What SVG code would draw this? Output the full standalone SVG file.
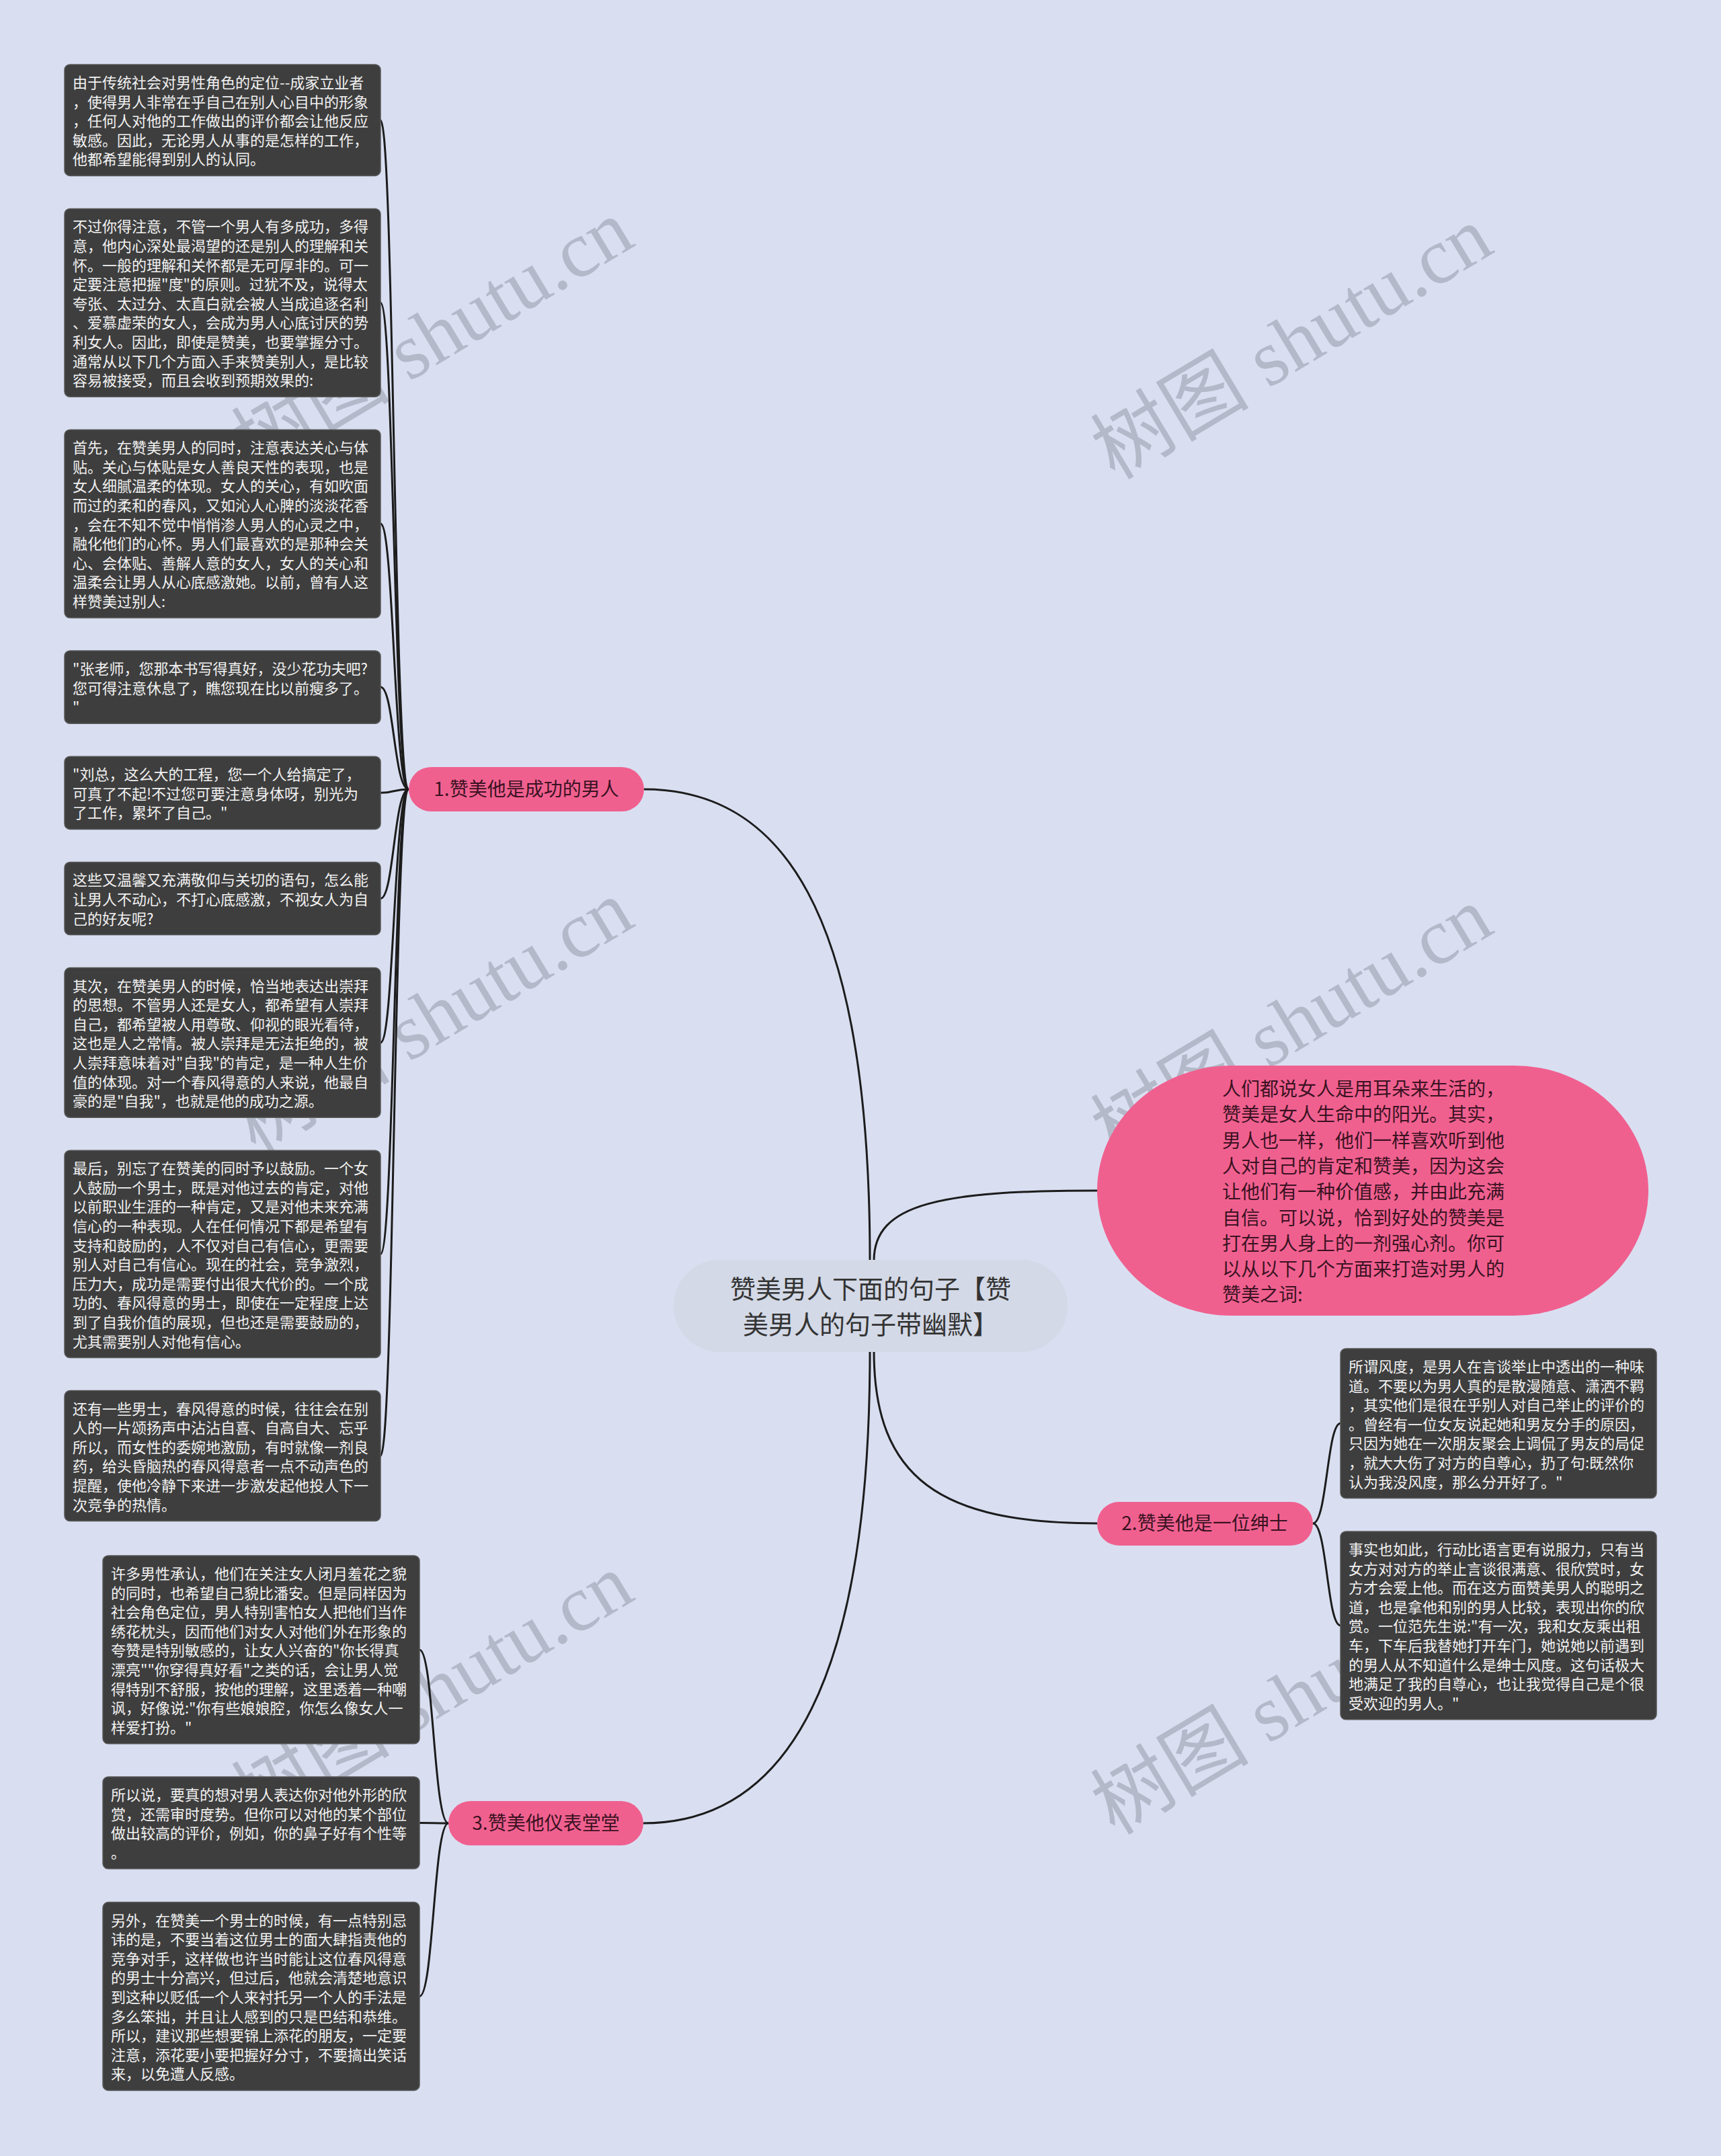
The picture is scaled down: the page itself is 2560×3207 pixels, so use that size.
<svg xmlns="http://www.w3.org/2000/svg" width="2560" height="3207" viewBox="0 0 2560 3207">
<style>
.bg{fill:#d9dff1}
.box{fill:#3e3e3e;stroke:#585858;stroke-width:1.5}
.bt{font-family:"Noto Sans CJK SC","Noto Sans",sans-serif;font-size:22px;fill:#f2f2f2}
.pink{fill:#f0608f}
.pt{font-family:"Noto Sans CJK SC","Noto Sans",sans-serif;font-size:28px;fill:#3a1222}
.ct{font-family:"Noto Sans CJK SC","Noto Sans",sans-serif;font-size:38px;fill:#333333}
.ln{fill:none;stroke:#1c1c1c;stroke-width:3}
.wm{font-family:"Liberation Serif","Noto Sans CJK SC",serif;font-size:118px;fill:#aab0bf;opacity:0.8}
</style>
<rect class="bg" x="0" y="0" width="2560" height="3207"/>

<g id="watermarks">
<text class="wm" x="644" y="540" text-anchor="middle" transform="rotate(-31 644 501)">树图 shutu.cn</text>
<text class="wm" x="1922" y="550" text-anchor="middle" transform="rotate(-31 1922 511)">树图 shutu.cn</text>
<text class="wm" x="644" y="1552" text-anchor="middle" transform="rotate(-31 644 1513)">树图 shutu.cn</text>
<text class="wm" x="1922" y="1562" text-anchor="middle" transform="rotate(-31 1922 1523)">树图 shutu.cn</text>
<text class="wm" x="644" y="2554" text-anchor="middle" transform="rotate(-31 644 2515)">树图 shutu.cn</text>
<text class="wm" x="1922" y="2566" text-anchor="middle" transform="rotate(-31 1922 2527)">树图 shutu.cn</text>
</g>

<g id="connectors">
<path class="ln" d="M958,1174 C1160,1174 1294,1350 1294,1875"/>
<path class="ln" d="M1294,2010 C1294,2520 1160,2712 957,2712"/>
<path class="ln" d="M1300,1875 C1300,1790 1400,1771 1632,1771"/>
<path class="ln" d="M1300,2010 C1300,2200 1400,2266 1632,2266"/>
<path class="ln" d="M608,1174 C586,1174 586,178.7 566,178.7"/>
<path class="ln" d="M608,1174 C586,1174 586,450.3 566,450.3"/>
<path class="ln" d="M608,1174 C586,1174 586,779.1 566,779.1"/>
<path class="ln" d="M608,1174 C586,1174 586,1022.1 566,1022.1"/>
<path class="ln" d="M608,1174 C586,1174 586,1179.3 566,1179.3"/>
<path class="ln" d="M608,1174 C586,1174 586,1336.5 566,1336.5"/>
<path class="ln" d="M608,1174 C586,1174 586,1550.9 566,1550.9"/>
<path class="ln" d="M608,1174 C586,1174 586,1865.4 566,1865.4"/>
<path class="ln" d="M608,1174 C586,1174 586,2165.6 566,2165.6"/>
<path class="ln" d="M667,2712 C645,2712 645,2454 624,2454"/>
<path class="ln" d="M667,2712 C645,2712 645,2711.4 624,2711.4"/>
<path class="ln" d="M667,2712 C645,2712 645,2969.5 624,2969.5"/>
<path class="ln" d="M1953,2266 C1974,2266 1974,2117.3 1994,2117.3"/>
<path class="ln" d="M1953,2266 C1974,2266 1974,2417.9 1994,2417.9"/>
</g>

<g id="center">
<rect x="1002" y="1874" width="586" height="137" rx="68" fill="#d3d9e6"/>
<text class="ct" text-anchor="middle"><tspan x="1295" y="1931">赞美男人下面的句子【赞</tspan><tspan x="1295" y="1984">美男人的句子带幽默】</tspan></text>
</g>

<g id="topic1">
<rect class="pink" x="608" y="1141" width="350" height="66" rx="33"/>
<text class="pt" x="783" y="1184" text-anchor="middle">1.赞美他是成功的男人</text>
</g>
<g id="topic2">
<rect class="pink" x="1632" y="2234" width="321" height="65" rx="32.5"/>
<text class="pt" x="1792" y="2276" text-anchor="middle">2.赞美他是一位绅士</text>
</g>
<g id="topic3">
<rect class="pink" x="667" y="2679" width="290" height="66" rx="33"/>
<text class="pt" x="812" y="2722" text-anchor="middle">3.赞美他仪表堂堂</text>
</g>

<g id="intro">
<rect class="pink" x="1632" y="1585" width="820" height="372" rx="200" ry="186"/>
<text class="pt"><tspan x="1818" y="1630">人们都说女人是用耳朵来生活的，</tspan><tspan x="1818" dy="38.3">赞美是女人生命中的阳光。其实，</tspan><tspan x="1818" dy="38.3">男人也一样，他们一样喜欢听到他</tspan><tspan x="1818" dy="38.3">人对自己的肯定和赞美，因为这会</tspan><tspan x="1818" dy="38.3">让他们有一种价值感，并由此充满</tspan><tspan x="1818" dy="38.3">自信。可以说，恰到好处的赞美是</tspan><tspan x="1818" dy="38.3">打在男人身上的一剂强心剂。你可</tspan><tspan x="1818" dy="38.3">以从以下几个方面来打造对男人的</tspan><tspan x="1818" dy="38.3">赞美之词:</tspan></text>
</g>

<g id="b1">
<rect class="box" x="96" y="96" width="470" height="165.4" rx="8"/>
<text class="bt"><tspan x="108" y="131">由于传统社会对男性角色的定位--成家立业者</tspan><tspan x="108" dy="28.6">，使得男人非常在乎自己在别人心目中的形象</tspan><tspan x="108" dy="28.6">，任何人对他的工作做出的评价都会让他反应</tspan><tspan x="108" dy="28.6">敏感。因此，无论男人从事的是怎样的工作，</tspan><tspan x="108" dy="28.6">他都希望能得到别人的认同。</tspan></text>
</g>
<g id="b2">
<rect class="box" x="96" y="310.4" width="470" height="279.8" rx="8"/>
<text class="bt"><tspan x="108" y="345.4">不过你得注意，不管一个男人有多成功，多得</tspan><tspan x="108" dy="28.6">意，他内心深处最渴望的还是别人的理解和关</tspan><tspan x="108" dy="28.6">怀。一般的理解和关怀都是无可厚非的。可一</tspan><tspan x="108" dy="28.6">定要注意把握"度"的原则。过犹不及，说得太</tspan><tspan x="108" dy="28.6">夸张、太过分、太直白就会被人当成追逐名利</tspan><tspan x="108" dy="28.6">、爱慕虚荣的女人，会成为男人心底讨厌的势</tspan><tspan x="108" dy="28.6">利女人。因此，即使是赞美，也要掌握分寸。</tspan><tspan x="108" dy="28.6">通常从以下几个方面入手来赞美别人，是比较</tspan><tspan x="108" dy="28.6">容易被接受，而且会收到预期效果的:</tspan></text>
</g>
<g id="b3">
<rect class="box" x="96" y="639.2" width="470" height="279.8" rx="8"/>
<text class="bt"><tspan x="108" y="674.2">首先，在赞美男人的同时，注意表达关心与体</tspan><tspan x="108" dy="28.6">贴。关心与体贴是女人善良天性的表现，也是</tspan><tspan x="108" dy="28.6">女人细腻温柔的体现。女人的关心，有如吹面</tspan><tspan x="108" dy="28.6">而过的柔和的春风，又如沁人心脾的淡淡花香</tspan><tspan x="108" dy="28.6">，会在不知不觉中悄悄渗人男人的心灵之中，</tspan><tspan x="108" dy="28.6">融化他们的心怀。男人们最喜欢的是那种会关</tspan><tspan x="108" dy="28.6">心、会体贴、善解人意的女人，女人的关心和</tspan><tspan x="108" dy="28.6">温柔会让男人从心底感激她。以前，曾有人这</tspan><tspan x="108" dy="28.6">样赞美过别人:</tspan></text>
</g>
<g id="b4">
<rect class="box" x="96" y="968" width="470" height="108.2" rx="8"/>
<text class="bt"><tspan x="108" y="1003">"张老师，您那本书写得真好，没少花功夫吧?</tspan><tspan x="108" dy="28.6">您可得注意休息了，瞧您现在比以前瘦多了。</tspan><tspan x="108" dy="28.6">"</tspan></text>
</g>
<g id="b5">
<rect class="box" x="96" y="1125.2" width="470" height="108.2" rx="8"/>
<text class="bt"><tspan x="108" y="1160.2">"刘总，这么大的工程，您一个人给搞定了，</tspan><tspan x="108" dy="28.6">可真了不起!不过您可要注意身体呀，别光为</tspan><tspan x="108" dy="28.6">了工作，累坏了自己。"</tspan></text>
</g>
<g id="b6">
<rect class="box" x="96" y="1282.4" width="470" height="108.2" rx="8"/>
<text class="bt"><tspan x="108" y="1317.4">这些又温馨又充满敬仰与关切的语句，怎么能</tspan><tspan x="108" dy="28.6">让男人不动心，不打心底感激，不视女人为自</tspan><tspan x="108" dy="28.6">己的好友呢?</tspan></text>
</g>
<g id="b7">
<rect class="box" x="96" y="1439.6" width="470" height="222.6" rx="8"/>
<text class="bt"><tspan x="108" y="1474.6">其次，在赞美男人的时候，恰当地表达出崇拜</tspan><tspan x="108" dy="28.6">的思想。不管男人还是女人，都希望有人崇拜</tspan><tspan x="108" dy="28.6">自己，都希望被人用尊敬、仰视的眼光看待，</tspan><tspan x="108" dy="28.6">这也是人之常情。被人崇拜是无法拒绝的，被</tspan><tspan x="108" dy="28.6">人崇拜意味着对"自我"的肯定，是一种人生价</tspan><tspan x="108" dy="28.6">值的体现。对一个春风得意的人来说，他最自</tspan><tspan x="108" dy="28.6">豪的是"自我"，也就是他的成功之源。</tspan></text>
</g>
<g id="b8">
<rect class="box" x="96" y="1711.2" width="470" height="308.4" rx="8"/>
<text class="bt"><tspan x="108" y="1746.2">最后，别忘了在赞美的同时予以鼓励。一个女</tspan><tspan x="108" dy="28.6">人鼓励一个男士，既是对他过去的肯定，对他</tspan><tspan x="108" dy="28.6">以前职业生涯的一种肯定，又是对他未来充满</tspan><tspan x="108" dy="28.6">信心的一种表现。人在任何情况下都是希望有</tspan><tspan x="108" dy="28.6">支持和鼓励的，人不仅对自己有信心，更需要</tspan><tspan x="108" dy="28.6">别人对自己有信心。现在的社会，竞争激烈，</tspan><tspan x="108" dy="28.6">压力大，成功是需要付出很大代价的。一个成</tspan><tspan x="108" dy="28.6">功的、春风得意的男士，即使在一定程度上达</tspan><tspan x="108" dy="28.6">到了自我价值的展现，但也还是需要鼓励的，</tspan><tspan x="108" dy="28.6">尤其需要别人对他有信心。</tspan></text>
</g>
<g id="b9">
<rect class="box" x="96" y="2068.6" width="470" height="194" rx="8"/>
<text class="bt"><tspan x="108" y="2103.6">还有一些男士，春风得意的时候，往往会在别</tspan><tspan x="108" dy="28.6">人的一片颂扬声中沾沾自喜、自高自大、忘乎</tspan><tspan x="108" dy="28.6">所以，而女性的委婉地激励，有时就像一剂良</tspan><tspan x="108" dy="28.6">药，给头昏脑热的春风得意者一点不动声色的</tspan><tspan x="108" dy="28.6">提醒，使他冷静下来进一步激发起他投人下一</tspan><tspan x="108" dy="28.6">次竞争的热情。</tspan></text>
</g>

<g id="lb1">
<rect class="box" x="153" y="2314" width="471" height="279.8" rx="8"/>
<text class="bt"><tspan x="165" y="2349">许多男性承认，他们在关注女人闭月羞花之貌</tspan><tspan x="165" dy="28.6">的同时，也希望自己貌比潘安。但是同样因为</tspan><tspan x="165" dy="28.6">社会角色定位，男人特别害怕女人把他们当作</tspan><tspan x="165" dy="28.6">绣花枕头，因而他们对女人对他们外在形象的</tspan><tspan x="165" dy="28.6">夸赞是特别敏感的，让女人兴奋的"你长得真</tspan><tspan x="165" dy="28.6">漂亮""你穿得真好看"之类的话，会让男人觉</tspan><tspan x="165" dy="28.6">得特别不舒服，按他的理解，这里透着一种嘲</tspan><tspan x="165" dy="28.6">讽，好像说:"你有些娘娘腔，你怎么像女人一</tspan><tspan x="165" dy="28.6">样爱打扮。"</tspan></text>
</g>
<g id="lb2">
<rect class="box" x="153" y="2643" width="471" height="136.8" rx="8"/>
<text class="bt"><tspan x="165" y="2678">所以说，要真的想对男人表达你对他外形的欣</tspan><tspan x="165" dy="28.6">赏，还需审时度势。但你可以对他的某个部位</tspan><tspan x="165" dy="28.6">做出较高的评价，例如，你的鼻子好有个性等</tspan><tspan x="165" dy="28.6">。</tspan></text>
</g>
<g id="lb3">
<rect class="box" x="153" y="2829.6" width="471" height="279.8" rx="8"/>
<text class="bt"><tspan x="165" y="2864.6">另外，在赞美一个男士的时候，有一点特别忌</tspan><tspan x="165" dy="28.6">讳的是，不要当着这位男士的面大肆指责他的</tspan><tspan x="165" dy="28.6">竞争对手，这样做也许当时能让这位春风得意</tspan><tspan x="165" dy="28.6">的男士十分高兴，但过后，他就会清楚地意识</tspan><tspan x="165" dy="28.6">到这种以贬低一个人来衬托另一个人的手法是</tspan><tspan x="165" dy="28.6">多么笨拙，并且让人感到的只是巴结和恭维。</tspan><tspan x="165" dy="28.6">所以，建议那些想要锦上添花的朋友，一定要</tspan><tspan x="165" dy="28.6">注意，添花要小要把握好分寸，不要搞出笑话</tspan><tspan x="165" dy="28.6">来，以免遭人反感。</tspan></text>
</g>

<g id="rb1">
<rect class="box" x="1994" y="2006" width="470" height="222.6" rx="8"/>
<text class="bt"><tspan x="2006" y="2041">所谓风度，是男人在言谈举止中透出的一种味</tspan><tspan x="2006" dy="28.6">道。不要以为男人真的是散漫随意、潇洒不羁</tspan><tspan x="2006" dy="28.6">，其实他们是很在乎别人对自己举止的评价的</tspan><tspan x="2006" dy="28.6">。曾经有一位女友说起她和男友分手的原因，</tspan><tspan x="2006" dy="28.6">只因为她在一次朋友聚会上调侃了男友的局促</tspan><tspan x="2006" dy="28.6">，就大大伤了对方的自尊心，扔了句:既然你</tspan><tspan x="2006" dy="28.6">认为我没风度，那么分开好了。"</tspan></text>
</g>
<g id="rb2">
<rect class="box" x="1994" y="2278" width="470" height="279.8" rx="8"/>
<text class="bt"><tspan x="2006" y="2313">事实也如此，行动比语言更有说服力，只有当</tspan><tspan x="2006" dy="28.6">女方对对方的举止言谈很满意、很欣赏时，女</tspan><tspan x="2006" dy="28.6">方才会爱上他。而在这方面赞美男人的聪明之</tspan><tspan x="2006" dy="28.6">道，也是拿他和别的男人比较，表现出你的欣</tspan><tspan x="2006" dy="28.6">赏。一位范先生说:"有一次，我和女友乘出租</tspan><tspan x="2006" dy="28.6">车，下车后我替她打开车门，她说她以前遇到</tspan><tspan x="2006" dy="28.6">的男人从不知道什么是绅士风度。这句话极大</tspan><tspan x="2006" dy="28.6">地满足了我的自尊心，也让我觉得自己是个很</tspan><tspan x="2006" dy="28.6">受欢迎的男人。"</tspan></text>
</g>
</svg>
